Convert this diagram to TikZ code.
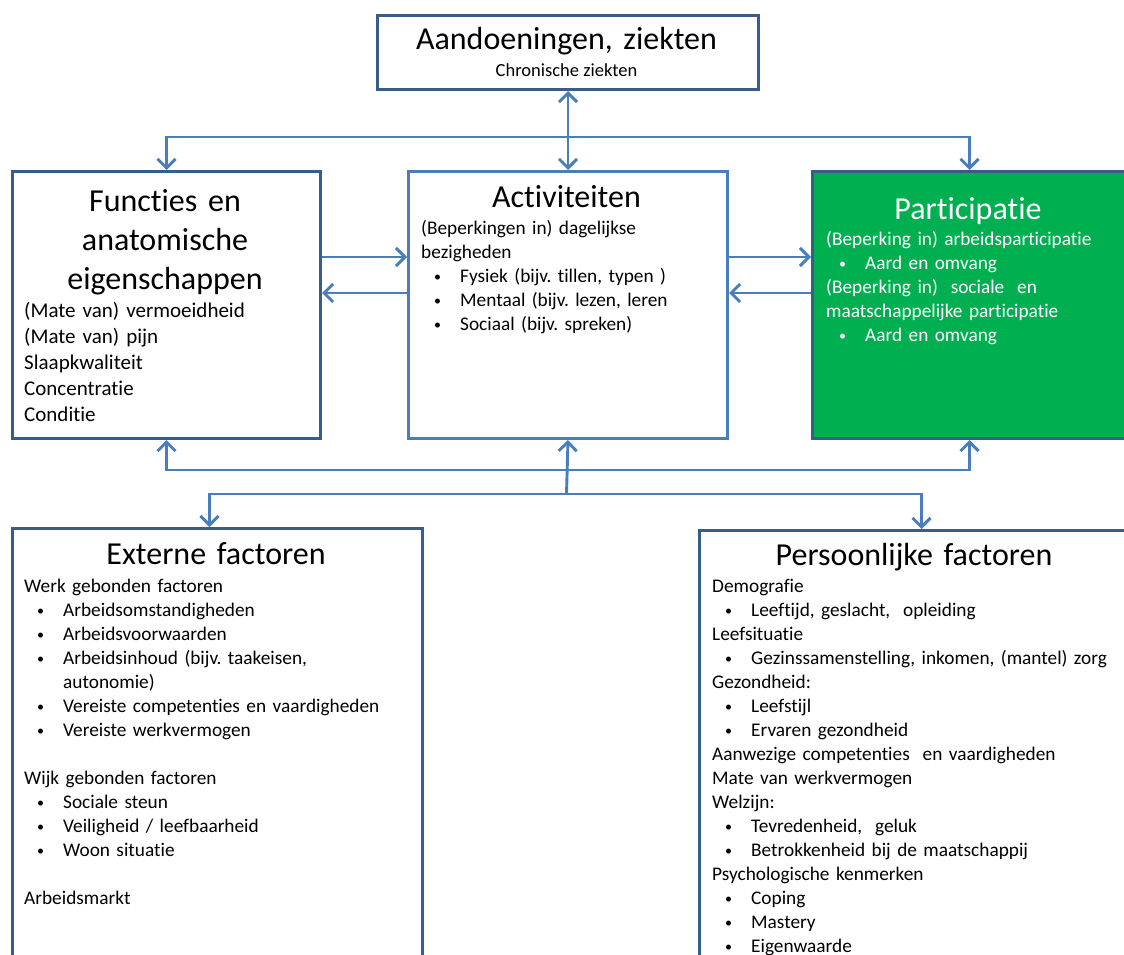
\documentclass[tikz,border=0pt]{standalone}
\usepackage{fontspec}
\setmainfont{Carlito}[Ligatures=NoCommon]
\usetikzlibrary{positioning,arrows.meta,calc}
\definecolor{boxline}{HTML}{385D8A}
\definecolor{linkblue}{HTML}{4A7EBB}
\definecolor{partgreen}{HTML}{00B050}
\newcommand{\titlesize}{\fontsize{32}{39}\selectfont}
\newcommand{\bodysize}{\fontsize{19.3}{24}\selectfont\frenchspacing}
\newcommand{\bul}{\hspace*{13pt}\makebox[26pt][l]{\raisebox{1pt}{\fontsize{14}{14}\selectfont\textbullet}}}

\begin{document}
\begin{tikzpicture}[
  x=1pt, y=-1pt,
  >={Straight Barb[length=9pt, width=18pt]},
  box/.style   ={draw=boxline, line width=3pt, anchor=north west, inner sep=0pt},
  actbox/.style={box, draw=linkblue},
  head/.style  ={anchor=base, align=center, inner sep=0pt, font=\titlesize},
  body/.style  ={anchor=base west, align=left, inner sep=0pt, font=\bodysize},
  link/.style  ={draw=linkblue, line width=2.9pt, ->}
]
\clip (0,0) rectangle (1124,955);

% --- boxes ---
\node[box, minimum width=381pt, minimum height=74pt]                  (top)  at (376,14)  {};
\node[box, minimum width=308pt, minimum height=267pt]                 (func) at (11,170)  {};
\node[actbox, minimum width=319pt, minimum height=267pt]              (act)  at (407,170) {};
\node[box, fill=partgreen, minimum width=314pt, minimum height=267pt] (part) at (811,170) {};
\node[box, minimum width=410pt, minimum height=460pt]                 (ext)  at (11,527)  {};
\node[box, minimum width=444pt, minimum height=460pt]                 (pers) at (698,529) {};

% --- texts ---
\node[head, text width=381pt] (toptitle) at (566.5,50) {Aandoeningen, ziekten};
\node[anchor=base, inner sep=0pt, font=\fontsize{18.5}{22}\selectfont] (topsub) at (566.5,77) {Chronische ziekten};

\node[head, text width=300pt] (functitle) at (165,211) {Functies en\\anatomische\\eigenschappen};
\node[body, text width=290pt, font=\fontsize{21}{26}\selectfont] (funcbody) at (24,317)
  {(Mate van) vermoeidheid\\(Mate van) pijn\\Slaapkwaliteit\\Concentratie\\Conditie};

\node[head, text width=310pt] (acttitle) at (566.5,207) {Activiteiten};
\node[body, text width=300pt] (actbody) at (421,234)
  {(Beperkingen in) dagelijkse\\bezigheden\\
   \bul Fysiek (bijv. tillen, typen )\\
   \bul Mentaal (bijv. lezen, leren\\
   \bul Sociaal (bijv. spreken)};

\node[head, text width=300pt, text=white] (parttitle) at (968,219) {Participatie};
\node[body, text width=295pt, text=white] (partbody) at (826,245)
  {(Beperking in) arbeidsparticipatie\\
   \bul Aard en omvang\\
   (Beperking in)\ \ sociale\ \ en\\
   maatschappelijke participatie\\
   \bul Aard en omvang};

\node[head, text width=400pt] (exttitle) at (216,564) {Externe factoren};
\node[body, text width=390pt] (extbody) at (24,592)
  {Werk gebonden factoren\\
   \bul Arbeidsomstandigheden\\
   \bul Arbeidsvoorwaarden\\
   \bul Arbeidsinhoud (bijv. taakeisen,\\
   \hspace*{39pt}autonomie)\\
   \bul Vereiste competenties en vaardigheden\\
   \bul Vereiste werkvermogen\\[24pt]
   Wijk gebonden factoren\\
   \bul Sociale steun\\
   \bul Veiligheid\ /\ leefbaarheid\\
   \bul Woon situatie\\[24pt]
   Arbeidsmarkt};

\node[head, text width=430pt] (perstitle) at (914,565) {Persoonlijke factoren};
\node[body, text width=420pt] (persbody) at (712,592)
  {Demografie\\
   \bul Leeftijd, geslacht,\ \ opleiding\\
   Leefsituatie\\
   \bul Gezinssamenstelling, inkomen, (mantel) zorg\\
   Gezondheid:\\
   \bul Leefstijl\\
   \bul Ervaren gezondheid\\
   Aanwezige competenties\ \ en vaardigheden\\
   Mate van werkvermogen\\
   Welzijn:\\
   \bul Tevredenheid,\ \ geluk\\
   \bul Betrokkenheid bij de maatschappij\\
   Psychologische kenmerken\\
   \bul Coping\\
   \bul Mastery\\
   \bul Eigenwaarde};

% --- connectors ---
\coordinate (upbar)   at (566.5,137);
\coordinate (lowbar)  at (566.5,470);
\coordinate (basebar) at (566.5,494);
\coordinate (fwd)     at (0,257);
\coordinate (back)    at (0,293);

\draw[link, <->] (top.south) -- (act.north);
\draw[link] (upbar) -| (func.north);
\draw[link] (upbar) -| (part.north);

\draw[link] (func.east |- fwd)  -- (act.west |- fwd);
\draw[link] (act.west |- back)  -- (func.east |- back);
\draw[link] (act.east |- fwd)   -- (part.west |- fwd);
\draw[link] (part.west |- back) -- (act.east |- back);

\draw[link] (lowbar)  -| (func.south);
\draw[link] (lowbar)  -| (part.south);
\draw[link] (basebar) -- (act.south);
\draw[link] (basebar) -| ([xshift=-8pt]ext.north);
\draw[link] (basebar) -| (pers.north);

\end{tikzpicture}
\end{document}
